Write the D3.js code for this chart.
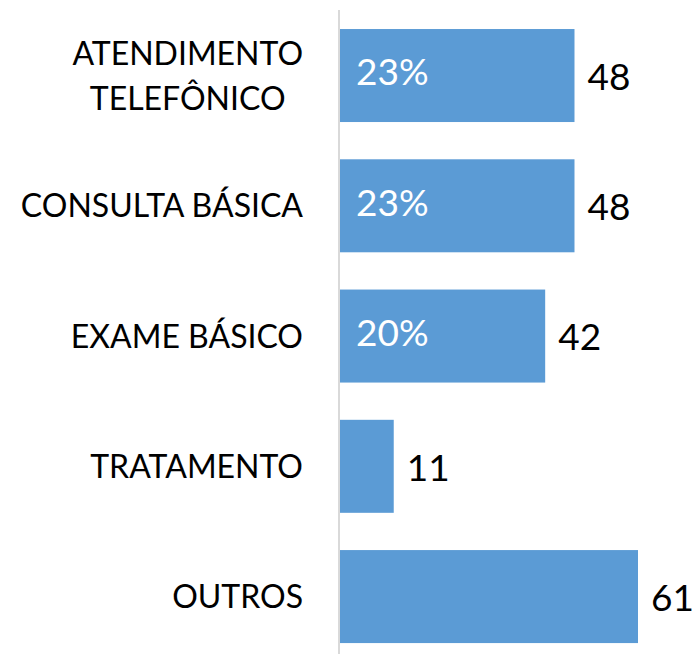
<!DOCTYPE html>
<html>
<head>
<meta charset="utf-8">
<script src="https://cdn.jsdelivr.net/npm/d3@7"></script>
<style>
  body { margin: 0; background: #fff; }
  text { font-family: Lato, "Open Sans", sans-serif; }
</style>
</head>
<body>
<div id="chart"></div>
<script>
var categories = [
  ['ATENDIMENTO', 'TELEFÔNICO'],
  ['CONSULTA BÁSICA'],
  ['EXAME BÁSICO'],
  ['TRATAMENTO'],
  ['OUTROS']
];
var values = [48, 48, 42, 11, 61];
var percents = ['23%', '23%', '20%', '', ''];

var width = 696, height = 654;
var left = 340;

var svg = d3.select('#chart').append('svg')
  .attr('width', width)
  .attr('height', height);

var keys = categories.map(function(c) { return c.join(' '); });

var x = d3.scaleLinear()
  .domain([0, 61])
  .range([left, 638]);

var y = d3.scaleBand()
  .domain(keys)
  .range([10.4, 661.7])
  .paddingInner(0.286)
  .paddingOuter(0.143);

// bars
svg.selectAll('rect.bar')
  .data(values)
  .enter()
  .append('rect')
  .attr('class', 'bar')
  .attr('x', x(0))
  .attr('y', function(d, i) { return y(keys[i]); })
  .attr('width', function(d) { return x(d) - x(0); })
  .attr('height', y.bandwidth())
  .attr('fill', '#5b9bd5');

// vertical axis line
svg.append('line')
  .attr('x1', x(0) - 1).attr('x2', x(0) - 1)
  .attr('y1', 10).attr('y2', height)
  .attr('stroke', '#d9d9d9')
  .attr('stroke-width', 2);

// category labels (multi-line centred within a right-aligned block)
var fs = 32;
categories.forEach(function(lines, i) {
  var cy = y(keys[i]) + y.bandwidth() / 2;
  var g = svg.append('g');
  var lh = 45;
  var y0 = cy - (lines.length - 1) * lh / 2;
  var texts = lines.map(function(l, j) {
    return g.append('text')
      .attr('y', y0 + j * lh)
      .attr('dy', '0.36em')
      .attr('font-size', fs)
      .attr('fill', '#000')
      .text(l);
  });
  var widths = texts.map(function(t) { return t.node().getComputedTextLength(); });
  var maxW = d3.max(widths);
  var right = 303;
  texts.forEach(function(t) {
    t.attr('text-anchor', 'middle').attr('x', right - maxW / 2);
  });
});

// percent labels inside bars
svg.selectAll('text.pct')
  .data(percents)
  .enter()
  .append('text')
  .attr('class', 'pct')
  .attr('x', x(0) + 16)
  .attr('y', function(d, i) { return y(keys[i]) + y.bandwidth() / 2 - 3.5; })
  .attr('dy', '0.36em')
  .attr('font-size', 37)
  .attr('fill', '#fff')
  .text(function(d) { return d; });

// value labels
svg.selectAll('text.val')
  .data(values)
  .enter()
  .append('text')
  .attr('class', 'val')
  .attr('x', function(d) { return x(d) + 13; })
  .attr('y', function(d, i) { return y(keys[i]) + y.bandwidth() / 2 + 1; })
  .attr('dy', '0.36em')
  .attr('font-size', 37)
  .attr('fill', '#000')
  .text(function(d) { return d; });
</script>
</body>
</html>
